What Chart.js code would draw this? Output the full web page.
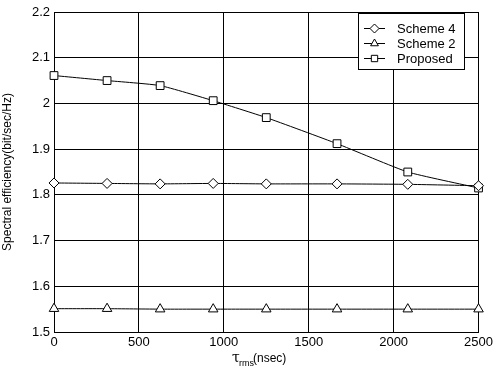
<!DOCTYPE html>
<html>
<head>
<meta charset="utf-8">
<script src="https://cdn.jsdelivr.net/npm/chart.js@4/dist/chart.umd.min.js"></script>
<style>
  html, body { margin: 0; padding: 0; background: #fff; }
  #wrap { width: 496px; height: 370px; }
</style>
</head>
<body>
<div id="wrap"><canvas id="myChart"></canvas></div>
<script>
const tauValues = [0, 312.5, 625, 937.5, 1250, 1666.7, 2083.3, 2500];
const scheme4 = [1.826, 1.825, 1.824, 1.825, 1.824, 1.824, 1.823, 1.82];
const scheme2 = [1.551, 1.551, 1.550, 1.550, 1.550, 1.550, 1.550, 1.550];
const proposed = [2.061, 2.050, 2.039, 2.006, 1.969, 1.912, 1.850, 1.815];
const seriesNames = ["Scheme 4", "Scheme 2", "Proposed"];
const seriesStyles = ["rectRot", "triangle", "rect"];

const FONT = "'Liberation Sans', Arial, sans-serif";

function toPoints(values) {
    return tauValues.map((x, i) => ({ x: x, y: values[i] }));
}

function makeDataset(label, values, style, radius) {
    return {
        label: label,
        data: toPoints(values),
        borderColor: '#000',
        borderWidth: 1,
        backgroundColor: '#fff',
        pointStyle: style,
        pointRadius: radius,
        pointBorderWidth: 1,
        pointBackgroundColor: '#fff',
        pointBorderColor: '#000',
        fill: false,
        tension: 0.15,
        clip: false
    };
}

// legend box with line + marker samples, plus the tau_rms axis title
const extras = {
    id: 'extras',
    afterDraw(chart) {
        const ctx = chart.ctx;
        ctx.save();
        // x title
        ctx.fillStyle = '#000';
        ctx.textBaseline = 'alphabetic';
        ctx.textAlign = 'left';
        const tx = 232, ty = 362;
        ctx.font = "14px 'DejaVu Serif', serif";
        ctx.fillText('τ', tx, ty);
        ctx.font = "9px " + FONT;
        ctx.fillText('rms', tx + 7, ty + 4);
        ctx.font = "12px " + FONT;
        ctx.fillText('(nsec)', tx + 21, ty);

        // legend
        const lx = 358, ly = 13, lw = 106, lh = 56;
        ctx.fillStyle = '#fff';
        ctx.fillRect(lx, ly, lw, lh);
        ctx.strokeStyle = '#000';
        ctx.lineWidth = 1;
        ctx.strokeRect(lx + 0.5, ly + 0.5, lw, lh);
        ctx.font = "13px " + FONT;
        ctx.textBaseline = 'middle';
        seriesNames.forEach((name, i) => {
            const y = ly + 15 + i * 15;
            ctx.beginPath();
            ctx.moveTo(lx + 6, y + 0.5);
            ctx.lineTo(lx + 27, y + 0.5);
            ctx.stroke();
            ctx.fillStyle = '#fff';
            ctx.strokeStyle = '#000';
            Chart.helpers.drawPoint(ctx, { pointStyle: seriesStyles[i], radius: 4.5, borderWidth: 1 }, lx + 16.5, y + 0.5);
            ctx.fillStyle = '#000';
            ctx.fillText(name, lx + 39, y + 1);
        });
        ctx.restore();
    }
};

function initChart() {
    const chartElement = document.getElementById('myChart');
    const data = {
        datasets: [
            makeDataset(seriesNames[0], scheme4, 'rectRot', 5),
            makeDataset(seriesNames[1], scheme2, 'triangle', 5.5),
            makeDataset(seriesNames[2], proposed, 'rect', 5.5)
        ]
    };
    new Chart(chartElement, {
        type: 'line',
        data: data,
        options: {
            responsive: true,
            maintainAspectRatio: false,
            animation: false,
            layout: { padding: { top: 12, right: 14, left: 0, bottom: 0 } },
            plugins: { legend: { display: false }, tooltip: { enabled: false } },
            scales: {
                x: {
                    type: 'linear',
                    min: 0,
                    max: 2500,
                    ticks: {
                        stepSize: 500,
                        color: '#000',
                        font: { family: FONT, size: 13 },
                        maxRotation: 0,
                        padding: 3,
                        callback: v => String(v)
                    },
                    grid: { color: '#000', lineWidth: 1, tickLength: 0 },
                    border: { color: '#000', width: 1 },
                    afterFit(scale) { scale.height = 38; }
                },
                y: {
                    min: 1.5,
                    max: 2.2,
                    ticks: {
                        stepSize: 0.1,
                        color: '#000',
                        font: { family: FONT, size: 13 },
                        padding: 4,
                        callback: v => Number(v.toFixed(1)).toString()
                    },
                    grid: { color: '#000', lineWidth: 1, tickLength: 0 },
                    border: { color: '#000', width: 1 },
                    title: {
                        display: true,
                        text: 'Spectral efficiency(bit/sec/Hz)',
                        color: '#000',
                        font: { family: FONT, size: 12 },
                        padding: { top: 0, bottom: 3 }
                    },
                    afterFit(scale) { scale.width = 54; }
                }
            }
        },
        plugins: [extras]
    });
}

initChart();
</script>
</body>
</html>
